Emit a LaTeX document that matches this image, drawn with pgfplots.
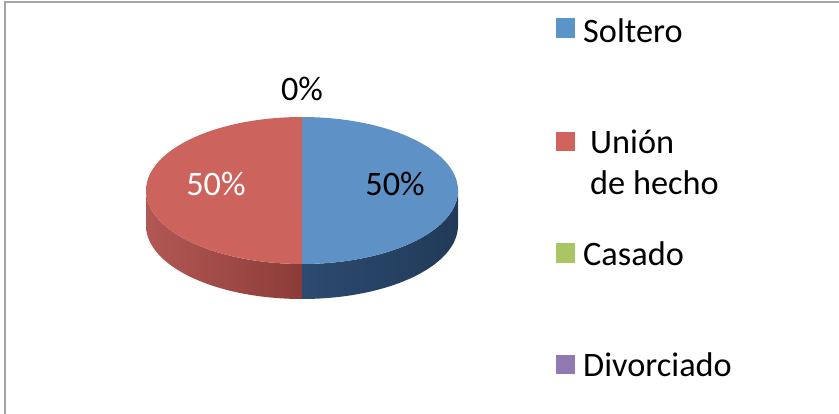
\documentclass[border=0pt]{standalone}
\usepackage{fontspec}
\setmainfont{Carlito}
\usepackage{pgfplots}
\pgfplotsset{compat=1.18}
\usepackage{pgfplotstable}

\definecolor{blueTop}{RGB}{94,146,199}
\definecolor{redTop}{RGB}{205,99,93}
\definecolor{blueSideA}{RGB}{44,75,112}
\definecolor{blueSideB}{RGB}{58,90,128}
\definecolor{blueSideC}{RGB}{33,58,88}
\definecolor{redSideA}{RGB}{178,88,84}
\definecolor{redSideB}{RGB}{140,60,56}
\definecolor{legBlue}{RGB}{91,148,199}
\definecolor{legRed}{RGB}{210,98,92}
\definecolor{legGreen}{RGB}{170,198,100}
\definecolor{legPurple}{RGB}{145,122,177}
\definecolor{frameGray}{RGB}{165,165,165}

\pgfplotstableread{
cat pct
Soltero 50
Union 50
Casado 0
Divorciado 0
}\piedata
\pgfplotstablegetelem{0}{pct}\of\piedata \let\pA\pgfplotsretval
\pgfplotstablegetelem{1}{pct}\of\piedata \let\pB\pgfplotsretval
\pgfmathsetmacro{\aS}{90-3.6*\pA}
\pgfmathsetmacro{\aU}{90+3.6*\pB}
\newcommand\lf{\fontsize{34.3bp}{40bp}\selectfont}

\begin{document}
\begin{tikzpicture}
\useasboundingbox (0,0) rectangle (839bp,414bp);
\begin{axis}[at={(0,0)},anchor=south west,scale only axis,
  width=839bp,height=414bp,xmin=0,xmax=839,ymin=0,ymax=414,
  hide axis,clip=false]

% frame (top and left)
\draw[frameGray,line width=2bp] (axis cs:5,0) -- (axis cs:5,412) -- (axis cs:839,412);

% side of Union (red) : 180..270
\shade[left color=redSideA,right color=redSideB]
  (axis cs:146,223.5) -- (axis cs:146,188.5)
  arc[start angle=180,end angle=270,x radius=156bp,y radius=73.5bp]
  -- (axis cs:302,150) 
  arc[start angle=270,end angle=180,x radius=156bp,y radius=73.5bp] -- cycle;
% side of Soltero (blue) : 270..360
\shade[left color=blueSideA,middle color=blueSideB,right color=blueSideC]
  (axis cs:302,115) 
  arc[start angle=270,end angle=360,x radius=156bp,y radius=73.5bp]
  -- (axis cs:458,223.5)
  arc[start angle=360,end angle=270,x radius=156bp,y radius=73.5bp] -- cycle;

% top faces
\addplot[fill=blueTop,draw=none,domain=\aS:90,samples=90,variable=\t]
  ({302+156*cos(\t)},{223.5+73.5*sin(\t)}) -- (axis cs:302,223.5) -- cycle;
\addplot[fill=redTop,draw=none,domain=90:\aU,samples=90,variable=\t]
  ({302+156*cos(\t)},{223.5+73.5*sin(\t)}) -- (axis cs:302,223.5) -- cycle;

% data labels
\node[anchor=base,inner sep=0pt,font=\lf] at (axis cs:302,313) {0\%};
\node[anchor=base,inner sep=0pt,white,font=\lf] at (axis cs:216,218) {50\%};
\node[anchor=base,inner sep=0pt,font=\lf] at (axis cs:395,218) {50\%};

% legend
\fill[legBlue] (axis cs:556,376) rectangle (axis cs:575,396);
\node[anchor=base west,inner sep=0pt,font=\lf] at (axis cs:583,371) {Soltero};
\fill[legRed] (axis cs:556,263) rectangle (axis cs:575,282);
\node[anchor=base west,inner sep=0pt,font=\lf] at (axis cs:590,260) {Unión};
\node[anchor=base west,inner sep=0pt,font=\lf] at (axis cs:590,219) {de hecho};
\fill[legGreen] (axis cs:556,151) rectangle (axis cs:575,171);
\node[anchor=base west,inner sep=0pt,font=\lf] at (axis cs:583,148) {Casado};
\fill[legPurple] (axis cs:556,40) rectangle (axis cs:575,59);
\node[anchor=base west,inner sep=0pt,font=\lf] at (axis cs:583,37) {Divorciado};
\end{axis}
\end{tikzpicture}
\end{document}
